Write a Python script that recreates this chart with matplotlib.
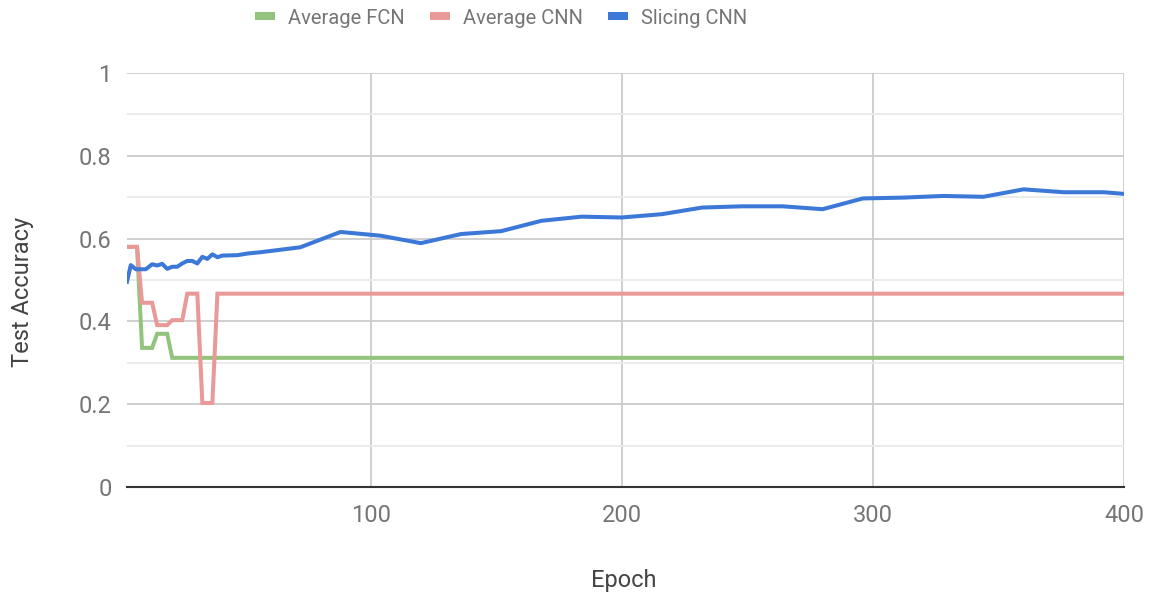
import matplotlib
matplotlib.use("Agg")
import matplotlib.pyplot as plt
from matplotlib.lines import Line2D
from matplotlib.ticker import MultipleLocator

plt.rcParams['font.family'] = ['Roboto', 'DejaVu Sans']

# ---- data ----
early_epochs = [3, 5, 7, 9, 11, 13, 15, 17, 19, 21, 23, 25, 27, 29, 31, 33, 35, 37, 39, 400]
avg_fcn = [0.58, 0.58, 0.58, 0.336, 0.336, 0.336, 0.370, 0.370, 0.370, 0.312,
           0.312, 0.312, 0.312, 0.312, 0.312, 0.312, 0.312, 0.312, 0.312, 0.312]
avg_cnn = [0.58, 0.58, 0.58, 0.445, 0.445, 0.445, 0.391, 0.391, 0.391, 0.403,
           0.403, 0.403, 0.467, 0.467, 0.467, 0.203, 0.203, 0.203, 0.467, 0.467]

slicing_epochs = [3, 4.5, 6.5, 10.5, 13, 15, 17, 19, 21, 23, 25, 27, 29, 31, 33, 35, 37, 39, 41,
                  47, 51, 56, 72, 88, 104, 120, 136, 152, 168, 184, 200, 216, 232, 248,
                  264, 280, 296, 312, 328, 344, 360, 376, 392, 400]
slicing_cnn = [0.496, 0.536, 0.526, 0.526, 0.538, 0.535, 0.539, 0.527, 0.532, 0.532,
               0.540, 0.546, 0.546, 0.540, 0.556, 0.551, 0.562, 0.555, 0.559,
               0.560, 0.564, 0.567, 0.579, 0.616, 0.607, 0.589, 0.611, 0.618, 0.643,
               0.653, 0.651, 0.659, 0.675, 0.678, 0.678, 0.671, 0.697, 0.699, 0.703,
               0.701, 0.719, 0.712, 0.712, 0.708]

series_names = ["Average FCN", "Average CNN", "Slicing CNN"]
colors = ["#93c47d", "#ea9999", "#3c78d8"]
y_ticks = [0, 0.2, 0.4, 0.6, 0.8, 1]
y_tick_labels = ["0", "0.2", "0.4", "0.6", "0.8", "1"]
x_ticks = [100, 200, 300, 400]

# ---- figure ----
fig = plt.figure(figsize=(11.55, 6.0), dpi=100)
ax = fig.add_axes([127 / 1155, 1 - 487 / 600, (1124 - 127) / 1155, (487 - 73) / 600])

lw = 2.9
ax.plot(early_epochs, avg_fcn, color=colors[0], lw=lw, zorder=3, solid_joinstyle='miter')
ax.plot(early_epochs, avg_cnn, color=colors[1], lw=lw, zorder=4, solid_joinstyle='miter')
ax.plot(slicing_epochs, slicing_cnn, color=colors[2], lw=lw, zorder=5)

ax.set_xlim(3, 400)
ax.set_ylim(0, 1)
ax.set_yticks(y_ticks)
ax.set_yticklabels(y_tick_labels)
ax.yaxis.set_minor_locator(MultipleLocator(0.1))
ax.set_xticks(x_ticks)
ax.set_xticklabels([str(t) for t in x_ticks])

ax.grid(True, which='major', axis='both', color='#cccccc', lw=1.3, zorder=1)
ax.grid(True, which='minor', axis='y', color='#ebebeb', lw=1.3, zorder=0)
ax.tick_params(axis='both', which='both', length=0, labelsize=17, colors='#757575')
ax.tick_params(axis='y', pad=11)
ax.tick_params(axis='x', pad=12)
for s in ['left', 'right', 'top']:
    ax.spines[s].set_visible(False)
ax.spines['bottom'].set_color('#333333')
ax.spines['bottom'].set_linewidth(1.5)
ax.spines['bottom'].set_zorder(6)

fig.text(624 / 1155, 1 - 580 / 600, "Epoch", ha='center', va='center', fontsize=17, color='#444444')
fig.text(22 / 1155, 1 - 292 / 600, "Test Accuracy", ha='center', va='center', rotation=90,
         fontsize=17, color='#444444')

leg_size = 14.5
handles = [Line2D([0], [0], color=c, lw=5.8, solid_capstyle='butt') for c in colors]
fig.legend(handles, series_names, loc='center', bbox_to_anchor=(501 / 1155, 1 - 18 / 600),
           ncol=3, frameon=False, prop={'family': ['Roboto', 'DejaVu Sans'], 'size': leg_size},
           labelcolor='#757575', handlelength=14.4 / leg_size, handletextpad=9.4 / leg_size,
           columnspacing=18 / leg_size)

fig.savefig("out.png", dpi=100)
